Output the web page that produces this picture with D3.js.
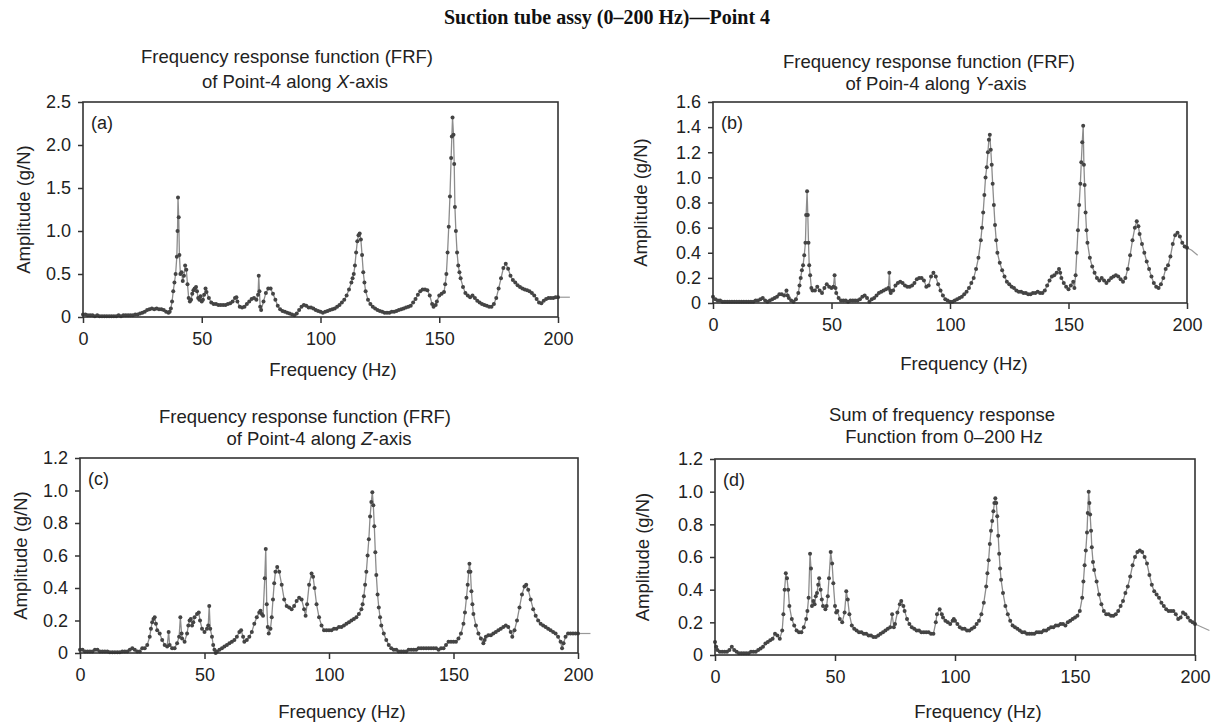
<!DOCTYPE html>
<html>
<head>
<meta charset="utf-8">
<script src="https://cdn.jsdelivr.net/npm/d3@7"></script>
<style>
  body { margin: 0; background: #fff; }
  svg { display: block; }
</style>
</head>
<body>
<div id="chart"></div>
<script>

var freqTicks = [0, 50, 100, 150, 200];
var ampTicksX = [0, 0.5, 1.0, 1.5, 2.0, 2.5];
var ampTicksY = [0, 0.2, 0.4, 0.6, 0.8, 1.0, 1.2, 1.4, 1.6];
var ampTicksZ = [0, 0.2, 0.4, 0.6, 0.8, 1.0, 1.2];
var ampTicksSum = [0, 0.2, 0.4, 0.6, 0.8, 1.0, 1.2];

var frfX = [[0,0.03],[1,0.03],[2,0.02],[3,0.02],[4,0.02],[5,0.01],[6,0.02],[7,0.01],[8,0.01],[9,0.01],[10,0.01],[11,0.01],[12,0.01],[13,0.01],[14,0.01],[15,0.02],[16,0.01],[17,0.02],[18,0.02],[19,0.02],[20,0.02],[21,0.02],[22,0.03],[23,0.03],[24,0.04],[25,0.05],[26,0.06],[27,0.08],[28,0.09],[29,0.1],[30,0.09],[31,0.1],[32,0.09],[33,0.09],[34,0.08],[35,0.06],[36,0.05],[36.5,0.06],[37,0.1],[37.5,0.18],[38,0.3],[38.5,0.4],[39,0.5],[39.5,0.7],[39.8,1.0],[40,1.39],[40.3,1.16],[40.6,0.72],[41,0.5],[41.5,0.52],[42,0.42],[42.5,0.48],[43,0.6],[43.5,0.55],[44,0.38],[44.5,0.22],[45,0.18],[45.5,0.2],[46,0.27],[46.5,0.31],[47,0.33],[47.6,0.35],[48,0.3],[48.5,0.22],[49,0.2],[49.5,0.24],[50,0.18],[50.5,0.2],[51,0.26],[51.6,0.33],[52,0.29],[53,0.22],[54,0.17],[55,0.15],[56,0.15],[57,0.14],[58,0.14],[59,0.14],[60,0.14],[61,0.15],[62,0.16],[63,0.18],[64,0.22],[64.6,0.23],[65,0.18],[66,0.12],[67,0.11],[68,0.12],[69,0.15],[70,0.18],[71,0.21],[72,0.22],[73,0.2],[73.7,0.26],[74,0.48],[74.3,0.3],[74.6,0.12],[75,0.08],[76,0.18],[77,0.28],[78,0.33],[79,0.33],[80,0.27],[81,0.2],[82,0.13],[83,0.09],[84,0.07],[85,0.06],[86,0.05],[87,0.04],[88,0.03],[89,0.02],[90,0.04],[91,0.08],[92,0.12],[93,0.14],[94,0.13],[95,0.11],[96,0.11],[97,0.1],[98,0.08],[99,0.07],[100,0.06],[101,0.05],[102,0.06],[103,0.07],[104,0.08],[105,0.09],[106,0.1],[107,0.12],[108,0.14],[109,0.17],[110,0.2],[111,0.25],[112,0.32],[113,0.4],[113.5,0.45],[114,0.5],[114.5,0.6],[115,0.75],[115.5,0.88],[116,0.95],[116.5,0.97],[117,0.9],[117.5,0.72],[118,0.52],[118.5,0.4],[119,0.3],[120,0.2],[121,0.15],[122,0.12],[123,0.1],[124,0.08],[125,0.07],[126,0.06],[127,0.05],[128,0.05],[129,0.05],[130,0.06],[131,0.06],[132,0.07],[133,0.08],[134,0.09],[135,0.1],[136,0.11],[137,0.12],[138,0.13],[139,0.17],[140,0.21],[141,0.26],[142,0.3],[143,0.32],[144,0.32],[145,0.31],[146,0.25],[147,0.15],[147.6,0.12],[148.5,0.14],[149,0.18],[150,0.25],[151,0.27],[152,0.29],[152.5,0.38],[153,0.5],[153.5,0.75],[154,1.05],[154.5,1.4],[155,1.85],[155.3,2.1],[155.6,2.32],[156,2.12],[156.3,1.78],[156.6,1.28],[157,1.0],[157.5,0.75],[158,0.6],[158.5,0.52],[159,0.45],[160,0.35],[161,0.28],[162,0.25],[163,0.23],[164,0.25],[165,0.22],[166,0.19],[167,0.17],[168,0.15],[169,0.14],[170,0.13],[171,0.12],[172,0.12],[173,0.15],[174,0.22],[175,0.33],[176,0.45],[177,0.57],[178,0.62],[179,0.56],[180,0.48],[181,0.43],[182,0.4],[183,0.37],[184,0.35],[185,0.33],[186,0.32],[187,0.31],[188,0.3],[189,0.28],[190,0.25],[191,0.21],[192,0.17],[193,0.16],[194,0.19],[195,0.21],[196,0.22],[197,0.22],[198,0.22],[199,0.23],[200,0.23]];
var tailX = [[200,0.23],[205,0.23]];

var frfY = [[0,0.05],[1,0.03],[2,0.02],[3,0.02],[4,0.01],[5,0.01],[6,0.01],[7,0.01],[8,0.01],[9,0.01],[10,0.01],[11,0.01],[12,0.01],[13,0.01],[14,0.01],[15,0.01],[16,0.01],[17,0.01],[18,0.02],[19,0.02],[20,0.03],[21,0.04],[22,0.02],[23,0.01],[24,0.02],[25,0.03],[26,0.04],[27,0.05],[28,0.07],[29,0.07],[30,0.06],[31,0.1],[31.5,0.06],[32,0.04],[33,0.02],[34,0.01],[35,0.03],[36,0.08],[36.5,0.14],[37,0.2],[37.5,0.26],[38,0.3],[38.5,0.38],[39,0.48],[39.3,0.7],[39.7,0.89],[40,0.7],[40.3,0.48],[40.6,0.3],[41,0.22],[41.5,0.12],[42,0.1],[43,0.1],[44,0.13],[45,0.1],[46,0.08],[47,0.12],[48,0.15],[49,0.13],[50,0.12],[50.8,0.13],[51.3,0.22],[51.7,0.12],[52,0.08],[53,0.04],[54,0.02],[55,0.02],[56,0.02],[57,0.01],[58,0.02],[59,0.02],[60,0.02],[61,0.02],[62,0.03],[63,0.05],[64,0.06],[65,0.04],[66,0.01],[67,0.03],[68,0.04],[69,0.06],[70,0.08],[71,0.09],[72,0.1],[73,0.11],[74,0.12],[74.4,0.24],[74.8,0.1],[75,0.08],[76,0.1],[77,0.14],[78,0.16],[79,0.17],[80,0.16],[81,0.14],[82,0.13],[83,0.13],[84,0.14],[85,0.16],[86,0.19],[87,0.2],[88,0.2],[89,0.18],[90,0.13],[91,0.14],[92,0.21],[93,0.24],[94,0.21],[95,0.15],[96,0.1],[97,0.06],[98,0.03],[99,0.02],[100,0.01],[101,0.01],[102,0.02],[103,0.03],[104,0.04],[105,0.05],[106,0.07],[107,0.09],[108,0.12],[109,0.16],[110,0.2],[111,0.27],[112,0.36],[113,0.5],[113.5,0.6],[114,0.72],[114.5,0.86],[115,1.0],[115.5,1.08],[116,1.2],[116.4,1.3],[116.8,1.34],[117.2,1.22],[117.6,1.1],[118,0.95],[118.5,0.78],[119,0.62],[119.5,0.5],[120,0.4],[121,0.32],[122,0.26],[123,0.21],[124,0.17],[125,0.15],[126,0.13],[127,0.12],[128,0.1],[129,0.09],[130,0.09],[131,0.08],[132,0.08],[133,0.07],[134,0.07],[135,0.08],[136,0.08],[137,0.09],[138,0.08],[139,0.08],[140,0.1],[141,0.14],[142,0.18],[143,0.21],[144,0.22],[145,0.24],[146,0.27],[146.5,0.24],[147,0.2],[148,0.16],[149,0.13],[150,0.11],[151,0.14],[152,0.17],[152.5,0.12],[153,0.22],[153.5,0.4],[154,0.58],[154.5,0.78],[155,0.95],[155.4,1.12],[155.8,1.28],[156.2,1.41],[156.5,1.1],[156.8,0.94],[157.2,0.72],[157.6,0.58],[158,0.48],[159,0.36],[160,0.29],[161,0.24],[162,0.2],[163,0.18],[164,0.2],[165,0.18],[166,0.16],[167,0.18],[168,0.2],[169,0.21],[170,0.22],[171,0.21],[172,0.19],[173,0.17],[174,0.2],[175,0.27],[176,0.38],[177,0.5],[178,0.6],[178.8,0.65],[179.5,0.61],[180,0.55],[181,0.47],[182,0.4],[183,0.33],[184,0.27],[185,0.21],[186,0.16],[187,0.13],[188,0.12],[189,0.15],[190,0.2],[191,0.27],[192,0.3],[193,0.37],[194,0.47],[195,0.54],[196,0.56],[197,0.53],[198,0.48],[199,0.45],[200,0.44]];
var tailY = [[200,0.44],[202,0.42],[204.5,0.38]];

var frfZ = [[0,0.02],[1,0.02],[2,0.01],[3,0.01],[4,0.01],[5,0.01],[6,0.02],[7,0.02],[8,0.01],[9,0.01],[10,0.01],[11,0.01],[12,0.005],[13,0.005],[14,0.005],[15,0.005],[16,0.005],[17,0.01],[18,0.01],[19,0.01],[20,0.02],[21,0.03],[22,0.02],[23,0.01],[24,0.01],[25,0.03],[26,0.03],[27,0.05],[28,0.1],[28.5,0.15],[29,0.19],[29.5,0.21],[30,0.22],[30.5,0.18],[31,0.14],[32,0.12],[33,0.08],[34,0.05],[35,0.04],[35.6,0.13],[36,0.05],[37,0.03],[38,0.03],[39,0.06],[39.8,0.1],[40.3,0.22],[40.8,0.12],[41,0.09],[42,0.07],[43,0.12],[43.5,0.17],[44,0.2],[44.5,0.21],[45,0.17],[45.5,0.19],[46,0.22],[47,0.24],[47.7,0.25],[48.2,0.2],[49,0.15],[50,0.13],[51,0.15],[51.5,0.17],[51.9,0.29],[52.3,0.15],[53,0.1],[53.5,0.05],[54,0.02],[54.5,0.0],[55,0.01],[56,0.02],[57,0.03],[58,0.04],[59,0.05],[60,0.06],[61,0.07],[62,0.08],[63,0.1],[64,0.13],[64.7,0.14],[65.5,0.1],[66,0.07],[67,0.08],[68,0.1],[69,0.13],[70,0.18],[71,0.22],[72,0.25],[72.5,0.26],[73,0.24],[73.5,0.23],[74.2,0.46],[74.6,0.64],[75,0.3],[75.4,0.16],[75.8,0.12],[76.5,0.15],[77,0.22],[77.5,0.33],[78,0.43],[78.5,0.5],[79.2,0.53],[80,0.5],[81,0.42],[82,0.33],[83,0.29],[84,0.28],[85,0.27],[86,0.29],[87,0.32],[88,0.34],[89,0.33],[90,0.27],[90.6,0.23],[91.2,0.3],[92,0.42],[93,0.49],[93.6,0.47],[94.2,0.4],[95,0.3],[96,0.22],[97,0.17],[98,0.14],[99,0.14],[100,0.14],[101,0.14],[102,0.15],[103,0.15],[104,0.16],[105,0.16],[106,0.17],[107,0.18],[108,0.19],[109,0.2],[110,0.21],[111,0.22],[112,0.24],[113,0.27],[113.5,0.3],[114,0.35],[114.5,0.42],[115,0.5],[115.5,0.6],[116,0.7],[116.5,0.84],[117,0.93],[117.4,0.99],[117.8,0.91],[118.2,0.78],[118.6,0.62],[119,0.48],[119.5,0.36],[120,0.28],[120.5,0.22],[121,0.17],[122,0.12],[123,0.08],[124,0.05],[125,0.03],[126,0.02],[127,0.02],[128,0.01],[129,0.01],[130,0.01],[131,0.01],[132,0.02],[133,0.02],[134,0.02],[135,0.02],[136,0.03],[137,0.03],[138,0.03],[139,0.03],[140,0.03],[141,0.03],[142,0.03],[143,0.03],[144,0.02],[145,0.03],[146,0.03],[147,0.05],[148,0.07],[149,0.07],[150,0.07],[151,0.07],[152,0.09],[153,0.12],[154,0.18],[154.6,0.25],[155.2,0.34],[155.7,0.42],[156.1,0.5],[156.4,0.55],[156.8,0.5],[157.2,0.38],[157.6,0.3],[158,0.24],[159,0.17],[160,0.12],[161,0.09],[162,0.06],[162.5,0.08],[163,0.1],[164,0.11],[165,0.11],[166,0.12],[167,0.13],[168,0.14],[169,0.15],[170,0.16],[171,0.17],[172,0.16],[173,0.13],[173.6,0.1],[174.5,0.14],[175.5,0.2],[176.5,0.28],[177.5,0.36],[178.5,0.41],[179.2,0.42],[180,0.39],[181,0.33],[182,0.27],[183,0.23],[184,0.2],[185,0.18],[186,0.17],[187,0.16],[188,0.15],[189,0.14],[190,0.13],[191,0.12],[192,0.1],[193,0.07],[193.6,0.03],[194.2,0.06],[195,0.1],[196,0.12],[197,0.12],[198,0.12],[199,0.12],[200,0.12]];
var tailZ = [[200,0.12],[205,0.12]];

var frfSum = [[0,0.08],[0.5,0.05],[1,0.03],[2,0.02],[3,0.02],[4,0.02],[5,0.02],[6,0.03],[7,0.05],[8,0.03],[9,0.02],[10,0.01],[11,0.01],[12,0.01],[13,0.01],[14,0.01],[15,0.02],[16,0.02],[17,0.02],[18,0.03],[19,0.04],[20,0.05],[21,0.07],[22,0.08],[23,0.09],[24,0.1],[25,0.13],[26,0.12],[27,0.1],[28,0.15],[28.5,0.25],[29,0.4],[29.5,0.5],[30,0.47],[30.5,0.4],[31,0.3],[32,0.22],[33,0.18],[34,0.15],[35,0.14],[36,0.14],[37,0.17],[38,0.22],[38.5,0.27],[39,0.35],[39.6,0.62],[40,0.53],[40.4,0.3],[41,0.33],[41.5,0.31],[42,0.36],[42.5,0.38],[43,0.43],[43.4,0.47],[44,0.4],[44.5,0.34],[45,0.3],[46,0.28],[46.5,0.3],[47,0.36],[47.5,0.47],[48.2,0.63],[48.8,0.56],[49.3,0.44],[50,0.3],[50.5,0.26],[51,0.27],[52,0.22],[53,0.2],[54,0.26],[54.7,0.39],[55.3,0.34],[56,0.25],[57,0.18],[58,0.16],[59,0.15],[60,0.14],[61,0.14],[62,0.13],[63,0.13],[64,0.12],[65,0.12],[66,0.11],[67,0.11],[68,0.12],[69,0.13],[70,0.14],[71,0.15],[72,0.16],[73,0.17],[73.8,0.25],[74.5,0.17],[75,0.19],[76,0.26],[77,0.31],[77.6,0.33],[78.5,0.3],[79,0.27],[80,0.22],[81,0.19],[82,0.17],[83,0.16],[84,0.15],[85,0.15],[86,0.14],[87,0.14],[88,0.14],[89,0.14],[90,0.13],[91,0.13],[92,0.2],[92.5,0.25],[93.6,0.28],[94.5,0.25],[95,0.23],[96,0.21],[97,0.2],[98,0.19],[99,0.21],[99.5,0.22],[100,0.21],[101,0.19],[102,0.17],[103,0.16],[104,0.16],[105,0.15],[106,0.15],[107,0.16],[108,0.17],[109,0.19],[110,0.21],[111,0.25],[112,0.32],[113,0.42],[113.5,0.5],[114,0.58],[114.5,0.68],[115,0.76],[115.5,0.82],[116,0.88],[116.4,0.93],[116.8,0.96],[117.2,0.93],[117.6,0.85],[118,0.73],[118.4,0.62],[118.8,0.53],[119.2,0.46],[120,0.38],[121,0.3],[122,0.25],[123,0.21],[124,0.18],[125,0.17],[126,0.16],[127,0.15],[128,0.14],[129,0.14],[130,0.13],[131,0.13],[132,0.13],[133,0.13],[134,0.14],[135,0.14],[136,0.14],[137,0.15],[138,0.15],[139,0.16],[140,0.17],[141,0.17],[142,0.18],[143,0.18],[144,0.19],[145,0.19],[146,0.18],[147,0.2],[148,0.21],[149,0.22],[150,0.23],[151,0.24],[152,0.27],[153,0.35],[153.5,0.45],[154,0.55],[154.5,0.64],[155,0.75],[155.3,0.87],[155.7,1.0],[156,0.93],[156.3,0.86],[156.7,0.76],[157,0.66],[157.5,0.57],[158,0.52],[159,0.45],[160,0.37],[161,0.31],[162,0.27],[163,0.25],[164,0.25],[165,0.24],[166,0.24],[167,0.25],[168,0.27],[169,0.3],[170,0.33],[171,0.38],[172,0.42],[173,0.48],[174,0.55],[175,0.6],[176,0.63],[177,0.64],[178,0.63],[179,0.6],[180,0.56],[181,0.49],[182,0.43],[183,0.39],[184,0.37],[185,0.35],[186,0.32],[187,0.3],[188,0.28],[189,0.27],[190,0.27],[191,0.27],[192,0.25],[193,0.22],[194,0.23],[195,0.26],[196,0.25],[197,0.23],[198,0.21],[199,0.2],[200,0.19]];
var tailSum = [[200,0.19],[203,0.17],[206,0.15]];

/* Layout der vier Teilbilder */
var panels = [
  {letter:"(a)", data:frfX, tail:tailX, ymax:2.5, yticks:ampTicksX,
   left:83, right:558, top:102, bottom:317,
   t1:"Frequency response function (FRF)", t2:["of Point-4 along ","X","-axis"],
   tx1:287, tx2:295, ty1:63, ty2:88, ylx:23, xlx:333, xly:376},
  {letter:"(b)", data:frfY, tail:tailY, ymax:1.6, yticks:ampTicksY,
   left:713, right:1187, top:102, bottom:303,
   t1:"Frequency response function (FRF)", t2:["of Poin-4 along ","Y","-axis"],
   tx1:929, tx2:936, ty1:68, ty2:90, ylx:640, xlx:964, xly:370},
  {letter:"(c)", data:frfZ, tail:tailZ, ymax:1.2, yticks:ampTicksZ,
   left:80, right:578, top:458, bottom:653,
   t1:"Frequency response function (FRF)", t2:["of Point-4 along ","Z","-axis"],
   tx1:305, tx2:319, ty1:423, ty2:445, ylx:20, xlx:342, xly:718},
  {letter:"(d)", data:frfSum, tail:tailSum, ymax:1.2, yticks:ampTicksSum,
   left:715, right:1195, top:459, bottom:655,
   t1:"Sum of frequency response", t2:["Function from 0\u2013200 Hz"],
   tx1:942, tx2:944, ty1:421, ty2:443, ylx:642, xlx:978, xly:718}
];

var font = "'Liberation Sans', Arial, sans-serif";
var svg = d3.select("#chart").append("svg").attr("width", 1215).attr("height", 724);
svg.append("rect").attr("width", 1215).attr("height", 724).attr("fill", "white");

svg.append("text").attr("x", 607).attr("y", 24).attr("text-anchor", "middle")
  .attr("font-family", "'Liberation Serif', 'Times New Roman', serif").attr("font-weight", "bold")
  .attr("font-size", "20px").attr("fill", "#111")
  .text("Suction tube assy (0\u2013200 Hz)\u2014Point 4");

var ampFormat = function(d) { return d === 0 ? "0" : d3.format(".1f")(d); };

panels.forEach(function(p) {
  var x = d3.scaleLinear().domain([0, 200]).range([p.left, p.right]);
  var y = d3.scaleLinear().domain([0, p.ymax]).range([p.bottom, p.top]);
  var g = svg.append("g");

  /* Titel */
  g.append("text").attr("x", p.tx1).attr("y", p.ty1).attr("text-anchor", "middle")
    .attr("font-family", font).attr("font-size", "18.5px").attr("fill", "#222").text(p.t1);
  var t2 = g.append("text").attr("x", p.tx2).attr("y", p.ty2).attr("text-anchor", "middle")
    .attr("font-family", font).attr("font-size", "18.5px").attr("fill", "#222");
  p.t2.forEach(function(s, i) {
    t2.append("tspan").attr("font-style", i === 1 ? "italic" : "normal").text(s);
  });

  /* Achsen */
  var xa = g.append("g").attr("transform", "translate(0," + p.bottom + ")")
    .call(d3.axisBottom(x).tickValues(freqTicks).tickSize(6).tickPadding(9).tickFormat(d3.format("d")));
  var ya = g.append("g").attr("transform", "translate(" + p.left + ",0)")
    .call(d3.axisLeft(y).tickValues(p.yticks).tickSize(5).tickPadding(7).tickFormat(ampFormat));
  [xa, ya].forEach(function(a) {
    a.select(".domain").remove();
    a.selectAll("line").attr("stroke", "#333").attr("stroke-width", 1.5);
    a.selectAll("text").attr("font-family", font).attr("font-size", "18px").attr("fill", "#222");
  });

  /* Achsenbeschriftung */
  g.append("text").attr("x", p.xlx).attr("y", p.xly).attr("text-anchor", "middle")
    .attr("font-family", font).attr("font-size", "18.5px").attr("fill", "#222").text("Frequency (Hz)");
  g.append("text").attr("transform", "translate(" + p.ylx + "," + ((p.top + p.bottom) / 2) + ") rotate(-90)")
    .attr("text-anchor", "middle").attr("dominant-baseline", "central")
    .attr("font-family", font).attr("font-size", "18.5px").attr("fill", "#222").text("Amplitude (g/N)");

  /* Linie + Marker */
  var line = d3.line().x(function(d) { return x(d[0]); }).y(function(d) { return y(d[1]); });
  g.append("path").datum(p.tail).attr("d", line).attr("fill", "none").attr("stroke", "#999").attr("stroke-width", 1.2);
  g.append("path").datum(p.data).attr("d", line).attr("fill", "none").attr("stroke", "#8c8c8c").attr("stroke-width", 1.3);
  g.append("g").selectAll("circle").data(p.data).enter().append("circle")
    .attr("cx", function(d) { return x(d[0]); }).attr("cy", function(d) { return y(d[1]); })
    .attr("r", 2).attr("fill", "#444");

  /* Rahmen */
  g.append("rect").attr("x", p.left).attr("y", p.top).attr("width", p.right - p.left).attr("height", p.bottom - p.top)
    .attr("fill", "none").attr("stroke", "#333").attr("stroke-width", 1.6);

  g.append("text").attr("x", p.left + 8).attr("y", p.top + 27)
    .attr("font-family", font).attr("font-size", "18px").attr("fill", "#222").text(p.letter);
});
</script>
</body>
</html>
